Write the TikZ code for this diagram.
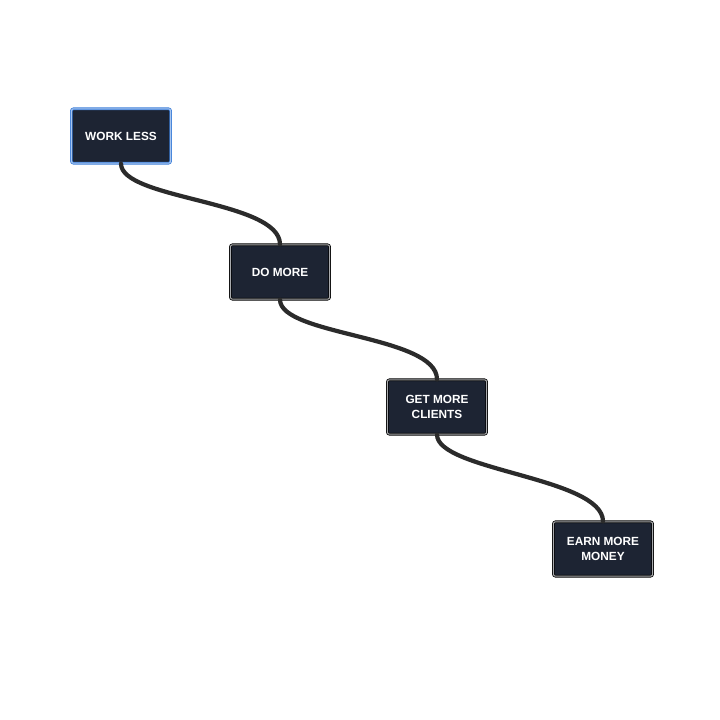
\documentclass[tikz,border=0pt]{standalone}
\usepackage{fontspec}
\setsansfont{Liberation Sans}
\usetikzlibrary{positioning, calc}

\definecolor{boxfill}{HTML}{1D2433}
\definecolor{boxedge}{HTML}{A9ABAE}
\definecolor{selblue}{HTML}{3D7FD9}
\definecolor{wire}{HTML}{2B2B2B}

\begin{document}
\begin{tikzpicture}[
  x=0.025cm, y=-0.025cm,
  goal/.style={
    draw=black, fill=boxfill, line width=0.55pt,
    double=boxedge, double distance=0.75pt, rounded corners=1.5pt,
    minimum width=2.48cm, minimum height=1.36cm,
    align=center, font=\sffamily\bfseries\fontsize{8.4}{11}\selectfont, text=white
  },
  sel/.style={draw=selblue, double=selblue!45!white},
  link/.style={line width=3pt, color=wire, line cap=round},
]

% ===== Canvas =====
\fill[white] (0,0) rectangle (720,720);

% ===== Steps =====
\node[goal, sel] (s1) at (121,136) {WORK LESS};
\node[goal] (s2) at (280,272) {DO MORE};
\node[goal] (s3) at (437,407) {GET MORE\\CLIENTS};
\node[goal] (s4) at (603,549) {EARN MORE\\MONEY};

% ===== Links =====
\draw[link] (s1.south) .. controls +(0,36) and +(0,-44) .. (s2.north);
\draw[link] (s2.south) .. controls +(0,36) and +(0,-44) .. (s3.north);
\draw[link] (s3.south) .. controls +(0,36) and +(0,-44) .. (s4.north);

\end{tikzpicture}
\end{document}
